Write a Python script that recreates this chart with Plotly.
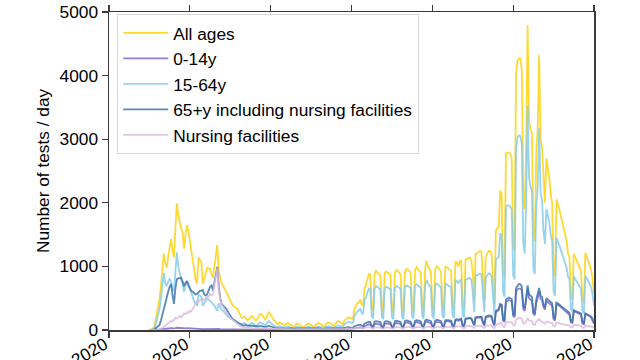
import datetime as dt
import plotly.graph_objects as go

# ---- data (daily tests, from 2020-02-22 to 2020-12-26) ----
start_date = "2020-02-22"
tick_dates = ["2020-01-25", "2020-03-21", "2020-05-16", "2020-07-11",
              "2020-09-05", "2020-10-31", "2020-12-26"]

all_ages = [
    0, 0, 10, 40, 120, 250, 380,
    490, 700, 1000, 1200, 1050, 980, 1150,
    1300, 1430, 1250, 1140, 1600, 1990, 1800,
    1670, 1600, 1530, 1280, 1500, 1650, 1550,
    1400, 1200, 1040, 900, 800, 725, 1140,
    1100, 1060, 725, 800, 900, 980, 970,
    960, 880, 820, 1000, 1200, 1340, 930,
    800, 725, 700, 660, 620, 570, 520,
    460, 410, 380, 360, 340, 330, 280,
    230, 190, 200, 210, 180, 150, 170,
    200, 220, 190, 160, 150, 180, 230,
    250, 240, 200, 170, 190, 260, 280,
    230, 200, 160, 130, 110, 90, 120,
    110, 100, 80, 70, 100, 110, 90,
    80, 60, 50, 80, 100, 90, 80,
    70, 50, 40, 70, 90, 100, 90,
    80, 60, 50, 80, 100, 110, 100,
    90, 60, 50, 90, 110, 120, 110,
    100, 70, 60, 100, 130, 140, 120,
    110, 90, 150, 170, 190, 200, 190,
    180, 170, 330, 380, 420, 425, 480,
    400, 380, 650, 700, 800, 880, 870,
    350, 300, 880, 930, 900, 880, 860,
    330, 280, 900, 920, 910, 880, 870,
    320, 280, 900, 940, 930, 900, 880,
    330, 280, 920, 960, 950, 920, 900,
    340, 290, 940, 990, 960, 930, 900,
    350, 300, 960, 1090, 1000, 950, 920,
    350, 300, 960, 1000, 980, 940, 920,
    360, 310, 1000, 990, 970, 950, 930,
    370, 320, 1080, 1060, 1000, 1080, 1090,
    380, 330, 1100, 1120, 1130, 1135, 1100,
    900, 460, 1200, 1200, 1220, 1245, 1230,
    820, 460, 1150, 1200, 1245, 1240, 1200,
    820, 410, 1560, 1600, 1610, 2190, 2150,
    900, 820, 2780, 2790, 2790, 2770, 2700,
    1300, 1245, 4050, 4240, 4270, 4270, 4080,
    2100, 1900, 2900, 4790, 3300, 3150, 3100,
    1500, 1400, 2800, 3200, 4320, 3000, 2870,
    2300, 2000, 2700, 2550, 2400, 2140, 2000,
    930, 850, 2050, 1990, 1900, 1800, 1700,
    1610, 1500, 1400, 1200, 1150, 520, 480,
    1200, 1150, 1100, 1040, 980, 930, 480,
    420, 1215, 1150, 1100, 1040, 950, 800,
    570,
]

age_0_14 = [
    0, 0, 0, 0, 2, 5, 8,
    10, 15, 20, 25, 22, 20, 25,
    30, 30, 25, 22, 30, 35, 32,
    30, 28, 26, 22, 25, 28, 26,
    24, 20, 18, 16, 15, 14, 18,
    18, 17, 14, 15, 16, 18, 17,
    17, 16, 15, 16, 18, 20, 16,
    14, 13, 12, 12, 11, 10, 10,
    10, 9, 9, 8, 8, 8, 7,
    7, 6, 7, 8, 7, 6, 6,
    7, 8, 7, 6, 5, 6, 8,
    9, 8, 7, 6, 7, 9, 10,
    8, 7, 6, 5, 4, 4, 5,
    5, 4, 3, 3, 4, 5, 4,
    4, 3, 3, 4, 5, 4, 4,
    3, 3, 2, 3, 4, 5, 4,
    4, 3, 3, 4, 5, 5, 5,
    4, 3, 3, 4, 5, 6, 5,
    5, 4, 3, 5, 6, 7, 6,
    6, 5, 10, 12, 14, 15, 14,
    14, 12, 25, 30, 35, 36, 40,
    30, 28, 60, 70, 80, 90, 85,
    50, 40, 90, 100, 95, 90, 85,
    45, 40, 95, 105, 100, 95, 90,
    45, 40, 100, 110, 105, 100, 95,
    50, 45, 110, 120, 115, 110, 100,
    50, 45, 115, 125, 120, 115, 105,
    55, 45, 120, 135, 125, 120, 110,
    55, 50, 125, 130, 125, 120, 115,
    60, 50, 135, 140, 135, 130, 125,
    60, 55, 150, 155, 145, 160, 165,
    65, 55, 170, 175, 180, 185, 175,
    120, 70, 190, 195, 200, 205, 200,
    110, 70, 200, 210, 215, 210, 205,
    110, 70, 280, 300, 310, 400, 390,
    150, 130, 440, 460, 470, 460, 450,
    220, 200, 600, 640, 650, 650, 620,
    330, 300, 450, 660, 500, 480, 460,
    250, 230, 430, 500, 610, 490, 470,
    360, 320, 460, 440, 420, 400, 380,
    170, 150, 410, 400, 380, 360, 340,
    320, 300, 280, 250, 240, 120, 110,
    300, 290, 280, 260, 250, 240, 100,
    90, 250, 240, 230, 220, 190, 150,
    95,
]

age_15_64 = [
    0, 0, 0, 10, 60, 150, 250,
    330, 500, 700, 900, 725, 700, 760,
    800, 770, 650, 615, 900, 1220, 1000,
    880, 800, 725, 600, 700, 770, 720,
    650, 570, 500, 450, 420, 380, 560,
    540, 520, 380, 420, 460, 500, 480,
    460, 430, 410, 380, 340, 300, 420,
    360, 320, 300, 280, 250, 220, 200,
    190, 170, 160, 150, 140, 130, 110,
    100, 90, 100, 110, 90, 70, 80,
    100, 110, 90, 70, 60, 80, 110,
    120, 110, 90, 70, 90, 130, 140,
    110, 90, 70, 60, 50, 40, 60,
    55, 50, 40, 35, 50, 55, 45,
    40, 30, 25, 40, 50, 45, 40,
    35, 25, 20, 35, 45, 50, 45,
    40, 30, 25, 40, 50, 55, 50,
    45, 30, 25, 45, 55, 60, 55,
    50, 35, 30, 50, 65, 70, 60,
    60, 50, 90, 110, 120, 130, 120,
    120, 110, 220, 260, 290, 300, 340,
    270, 250, 470, 510, 590, 650, 640,
    220, 180, 650, 690, 670, 650, 640,
    210, 170, 660, 680, 670, 650, 640,
    200, 170, 660, 690, 680, 660, 650,
    210, 170, 670, 700, 690, 670, 660,
    210, 180, 690, 720, 700, 680, 660,
    220, 180, 700, 790, 730, 690, 670,
    220, 180, 700, 730, 710, 690, 670,
    220, 190, 720, 720, 700, 690, 680,
    230, 190, 780, 770, 730, 780, 790,
    230, 200, 790, 800, 810, 820, 790,
    600, 280, 860, 860, 870, 890, 880,
    560, 280, 820, 860, 890, 880, 850,
    550, 240, 1100, 1130, 1140, 1520, 1500,
    600, 520, 1950, 1960, 1960, 1940, 1900,
    850, 800, 2850, 3030, 3060, 3050, 2930,
    1350, 1200, 2000, 3530, 2400, 2250, 2200,
    950, 880, 1950, 2250, 3170, 2150, 2050,
    1550, 1350, 1900, 1800, 1700, 1500, 1400,
    600, 540, 1450, 1400, 1330, 1260, 1190,
    1130, 1050, 980, 840, 800, 330, 300,
    840, 800, 770, 730, 690, 650, 300,
    260, 850, 800, 770, 730, 670, 560,
    380,
]

age_65_plus = [
    0, 0, 0, 5, 20, 40, 60,
    80, 150, 250, 350, 420, 500, 600,
    680, 725, 550, 410, 650, 800, 810,
    815, 820, 760, 690, 740, 770, 700,
    650, 615, 600, 580, 560, 570, 600,
    615, 620, 630, 560, 540, 560, 620,
    680, 700, 620, 750, 880, 990, 700,
    500, 410, 380, 360, 340, 300, 250,
    210, 190, 170, 150, 130, 110, 100,
    90, 80, 70, 75, 70, 60, 65,
    70, 65, 60, 55, 50, 55, 60,
    65, 60, 50, 45, 50, 60, 65,
    55, 45, 40, 35, 30, 30, 35,
    30, 30, 25, 20, 25, 30, 25,
    25, 20, 15, 20, 25, 25, 20,
    20, 15, 15, 20, 25, 25, 20,
    20, 15, 15, 20, 25, 30, 25,
    25, 15, 15, 25, 30, 30, 25,
    25, 20, 15, 25, 30, 35, 30,
    30, 25, 35, 40, 45, 45, 40,
    40, 35, 60, 70, 75, 80, 85,
    70, 60, 100, 110, 120, 130, 125,
    60, 50, 130, 140, 135, 130, 125,
    55, 45, 130, 140, 135, 125, 120,
    55, 45, 135, 145, 140, 130, 125,
    55, 45, 140, 150, 145, 135, 130,
    60, 50, 145, 155, 150, 140, 135,
    60, 50, 150, 165, 155, 145, 140,
    60, 50, 150, 160, 155, 145, 140,
    65, 55, 155, 160, 155, 150, 145,
    70, 55, 165, 170, 160, 175, 180,
    70, 60, 180, 185, 190, 190, 185,
    130, 80, 200, 205, 210, 215, 210,
    130, 80, 210, 220, 230, 225, 220,
    140, 80, 300, 320, 330, 410, 400,
    170, 150, 480, 500, 510, 500, 490,
    250, 230, 660, 700, 725, 720, 680,
    380, 340, 500, 700, 560, 540, 520,
    280, 260, 480, 560, 660, 540, 520,
    400, 350, 500, 480, 460, 440, 420,
    200, 180, 430, 420, 400, 380, 360,
    350, 330, 310, 280, 270, 140, 130,
    310, 300, 290, 280, 270, 260, 120,
    110, 260, 250, 240, 230, 210, 180,
    120,
]

nursing = [
    0, 0, 0, 0, 0, 0, 0,
    5, 15, 30, 50, 70, 90, 110,
    120, 140, 130, 160, 190, 180, 200,
    220, 200, 240, 260, 250, 280, 270,
    300, 290, 330, 380, 420, 460, 440,
    470, 480, 490, 470, 500, 530, 520,
    570, 540, 560, 700, 850, 970, 650,
    480, 400, 360, 320, 290, 250, 220,
    190, 170, 150, 130, 110, 100, 80,
    60, 50, 45, 40, 35, 30, 30,
    30, 28, 25, 25, 22, 22, 25,
    25, 24, 22, 20, 20, 22, 24,
    20, 18, 16, 15, 14, 14, 15,
    14, 14, 12, 10, 12, 13, 12,
    12, 10, 8, 10, 12, 12, 10,
    10, 8, 8, 10, 12, 12, 10,
    10, 8, 8, 10, 12, 14, 12,
    12, 8, 8, 12, 14, 14, 12,
    12, 10, 8, 12, 14, 16, 14,
    14, 12, 15, 18, 20, 20, 18,
    18, 16, 25, 28, 30, 30, 32,
    28, 25, 35, 38, 40, 42, 40,
    25, 20, 40, 45, 42, 40, 38,
    25, 20, 40, 45, 42, 40, 38,
    25, 20, 42, 46, 44, 42, 40,
    25, 20, 44, 48, 46, 44, 42,
    25, 22, 46, 50, 48, 46, 44,
    28, 22, 48, 52, 50, 48, 46,
    28, 22, 48, 52, 50, 48, 46,
    30, 24, 50, 52, 50, 48, 46,
    30, 24, 54, 56, 52, 58, 60,
    32, 26, 60, 62, 64, 64, 62,
    45, 30, 66, 68, 70, 72, 70,
    45, 30, 70, 72, 75, 74, 72,
    45, 30, 85, 90, 92, 110, 108,
    55, 50, 120, 125, 128, 125, 120,
    75, 70, 160, 175, 190, 185, 175,
    110, 100, 140, 180, 150, 145, 140,
    85, 80, 130, 150, 170, 140, 135,
    110, 100, 130, 125, 120, 115, 110,
    60, 55, 115, 110, 105, 100, 95,
    90, 85, 80, 75, 70, 40, 38,
    80, 78, 75, 72, 70, 68, 35,
    32, 70, 68, 66, 64, 60, 50,
    40,
]

series_names = ["All ages", "0-14y", "15-64y", "65+y including nursing facilities",
                "Nursing facilities"]
series_values = [all_ages, age_0_14, age_15_64, age_65_plus, nursing]
series_colors = ["#FFD20F", "#7F66C9", "#86CBEA", "#3C74AE", "#DDBBDD"]


def dates_for(values):
    d0 = dt.date.fromisoformat(start_date)
    return [(d0 + dt.timedelta(days=i)).isoformat() for i in range(len(values))]


fig = go.Figure()
for name, vals, col in zip(series_names, series_values, series_colors):
    fig.add_trace(go.Scatter(x=dates_for(vals), y=vals, mode="lines", name=name,
                             line=dict(color=col, width=1.8), opacity=0.85))

tick_text = [dt.date.fromisoformat(t).strftime("%d.%m.%Y") + "\u00a0" for t in tick_dates]
font = "Liberation Sans, Arial, Helvetica, sans-serif"
axis_col = "#3a3a3a"

fig.update_layout(
    width=640, height=360,
    margin=dict(l=109, r=46, t=12, b=30),
    paper_bgcolor="white", plot_bgcolor="white",
    font=dict(family=font, size=17.3, color="black"),
    showlegend=True,
    legend=dict(x=0.017, y=0.993, xanchor="left", yanchor="top",
                bgcolor="rgba(255,255,255,0.85)", bordercolor="#d6d6d6", borderwidth=1,
                font=dict(size=17.3), tracegroupgap=0, itemwidth=45),
    annotations=[dict(text="Number of tests / day", xref="paper", yref="paper",
                      x=-0.136, y=0.5, xanchor="center", yanchor="middle",
                      textangle=-90, showarrow=False, font=dict(size=17.3))],
)
fig.update_xaxes(range=[tick_dates[0], tick_dates[-1]], tickvals=tick_dates, ticktext=tick_text,
                 tickangle=-30, showgrid=False, zeroline=False, showline=True,
                 linecolor=axis_col, linewidth=1.5, mirror="ticks", ticks="outside",
                 ticklen=6, tickcolor=axis_col, tickwidth=1.3, automargin=False,
                 ticklabeloverflow="allow", ticklabelstandoff=-12)
fig.update_yaxes(range=[0, 5000], tickvals=[0, 1000, 2000, 3000, 4000, 5000],
                 showgrid=False, zeroline=False, showline=True, linecolor=axis_col,
                 linewidth=1.5, mirror=True, ticks="outside", ticklen=6,
                 tickcolor=axis_col, tickwidth=1.3, automargin=False,
                 ticklabeloverflow="allow")

fig.write_html("out.html", config={"displayModeBar": False, "staticPlot": True},
               post_script="document.body.style.margin='0';document.body.style.overflow='hidden';")
